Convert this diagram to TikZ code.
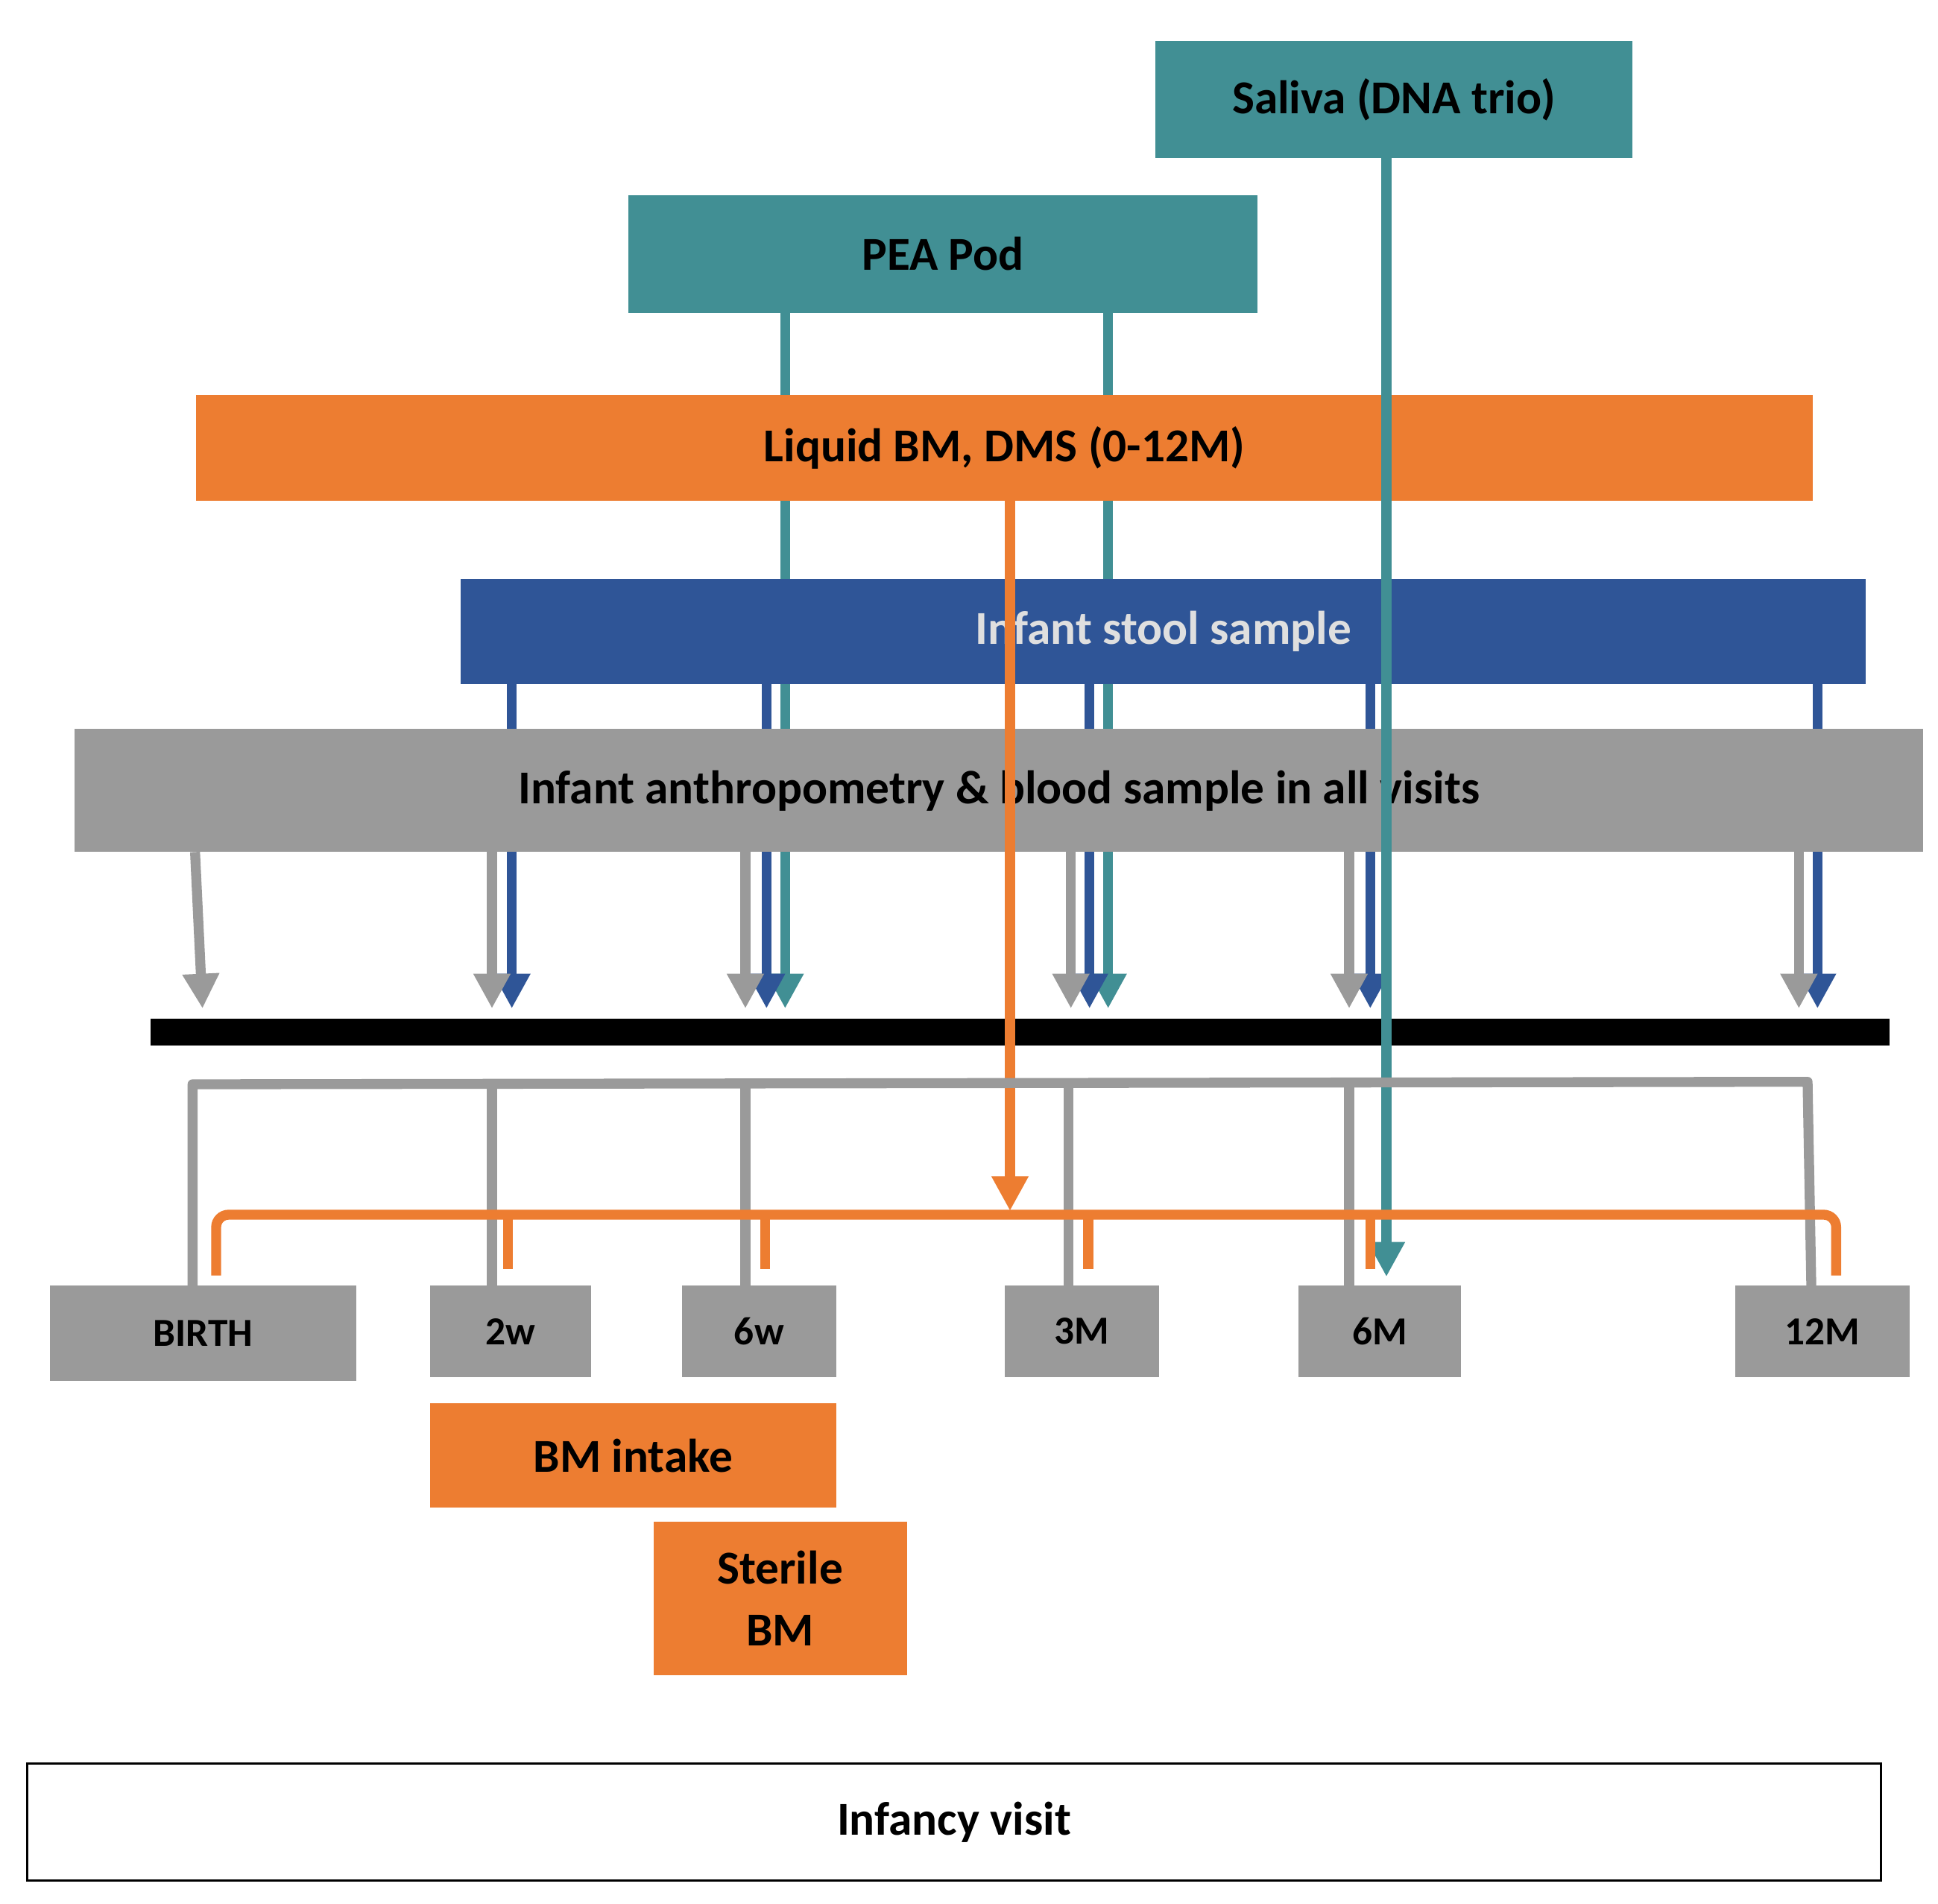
\documentclass[tikz,border=0pt]{standalone}
\usepackage{fontspec}
\setmainfont{Carlito}
\usetikzlibrary{arrows.meta}
\definecolor{teal}{HTML}{418F94}
\definecolor{org}{HTML}{ED7D31}
\definecolor{blu}{HTML}{2F5597}
\definecolor{gry}{HTML}{9A9A9A}
\newcommand\bx[7]{\node[#6,minimum width={#4-#2},minimum height={#5-#3}] (#1) at ({(#2+#4)/2},{(#3+#5)/2}) {#7};}
\begin{document}
\begin{tikzpicture}[x=1pt,y=-1pt,
 box/.style={inner sep=0,draw=none,font=\fontsize{38}{46}\selectfont\bfseries,align=center},
 small/.style={box,font=\fontsize{32}{38}\selectfont\bfseries},
 ln/.style={line width=8pt},
 arr/.style={ln,-{Triangle[width=28pt,length=28pt]}},
 ta/.style={arr,teal},ba/.style={arr,blu},ga/.style={arr,gry},oa/.style={arr,org}]
\useasboundingbox (0,0) rectangle (1560,1533);
% connectors (under boxes)
\coordinate (t1) at (632,812); \coordinate (t2) at (892,812);
\coordinate (b1) at (412,812); \coordinate (b2) at (617,812); \coordinate (b3) at (877,812);
\coordinate (b4) at (1103,812); \coordinate (b5) at (1463,812);
\coordinate (g1) at (163,812); \coordinate (g2) at (396,812); \coordinate (g3) at (600,812);
\coordinate (g4) at (862,812); \coordinate (g5) at (1086,812); \coordinate (g6) at (1448,812);
\coordinate (sa) at (1116,1028); \coordinate (oe) at (813,975);
\draw[ta] (632,252) -- (t1);
\draw[ta] (892,252) -- (t2);
\draw[ba] (412,551) -- (b1);
\draw[ba] (617,551) -- (b2);
\draw[ba] (877,551) -- (b3);
\draw[ba] (1103,551) -- (b4);
\draw[ba] (1463,551) -- (b5);
\draw[ga] (157,686) -- (g1);
\draw[ga] (396,686) -- (g2);
\draw[ga] (600,686) -- (g3);
\draw[ga] (862,686) -- (g4);
\draw[ga] (1086,686) -- (g5);
\draw[ga] (1448,686) -- (g6);
% boxes
\bx{sal}{930}{33}{1314}{127}{box,fill=teal}{Saliva (DNA trio)}
\bx{pea}{506}{157}{1012}{252}{box,fill=teal}{PEA Pod}
\bx{liq}{158}{318}{1459}{403}{box,fill=org}{Liquid BM, DMS (0-12M)}
\bx{sto}{371}{466}{1502}{551}{box,fill=blu,text=gray!25}{Infant stool sample}
\bx{ant}{60}{587}{1548}{686}{box,fill=gry}{Infant anthropometry \& blood sample in all visits}
\fill (121,820) rectangle (1521,842);
\coordinate (bar) at (121,831);
% long lines over bar
\draw[ta] (sal.south -| sa) -- (sa);
\draw[oa] (liq.south -| oe) -- (oe);
% visit boxes
\bx{birth}{40}{1035}{287}{1112}{small,fill=gry}{BIRTH}
\bx{w2}{346}{1035}{476}{1109}{small,fill=gry}{2w}
\bx{w6}{549}{1035}{673}{1109}{small,fill=gry}{6w}
\bx{m3}{809}{1035}{933}{1109}{small,fill=gry}{3M}
\bx{m6}{1045}{1035}{1176}{1109}{small,fill=gry}{6M}
\bx{m12}{1397}{1035}{1537}{1109}{small,fill=gry}{12M}
\bx{int}{346}{1130}{673}{1214}{box,fill=org}{BM intake}
\bx{ste}{526}{1225}{730}{1349}{box,fill=org}{Sterile\\[4pt]BM}
\bx{inf}{22}{1420}{1514}{1514}{box,draw=black,line width=2pt,fill=white}{Infancy visit}
% gray bracket
\draw[ln,gry,line join=round] (155,1035) -- (155,873) -- (1455,871) -- (1458,1035);
\foreach \x in {396,600,860,1086} \draw[ln,gry] (\x,871) -- (\x,1035);
% orange bracket
\draw[ln,org,rounded corners=10pt] (174,1027) -- (174,978) -- (1478,978) -- (1478,1027);
\foreach \x in {409,616,876,1103} \draw[ln,org] (\x,978) -- (\x,1022);
\end{tikzpicture}
\end{document}
